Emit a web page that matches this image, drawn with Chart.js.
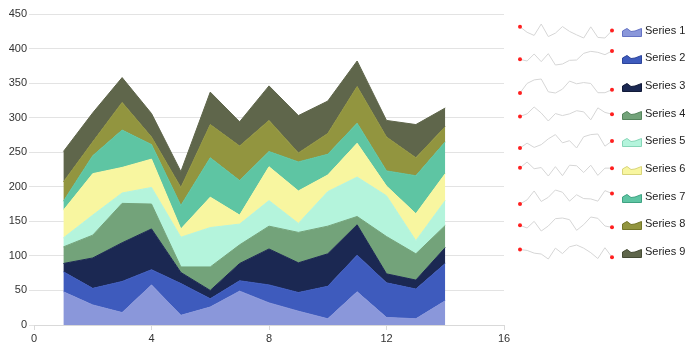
<!DOCTYPE html>
<html>
<head>
<meta charset="utf-8">
<script src="https://cdn.jsdelivr.net/npm/chart.js@4/dist/chart.umd.min.js"></script>
<style>
  html, body { margin: 0; padding: 0; background: #fff; }
  #wrap { position: relative; width: 692px; height: 351px; }
  #main { position: absolute; left: 0; top: 0; }
  .row { position: absolute; left: 516px; height: 22px; width: 176px; }
  .row canvas { position: absolute; left: 0; top: 0; }
  .row .lbl {
    position: absolute; left: 129px; top: 4px;
    font: 11px "Liberation Sans", Arial, sans-serif; color: #222; white-space: nowrap;
  }
</style>
</head>
<body>
<div id="wrap">
  <canvas id="main" width="692" height="351"></canvas>
  <div id="legend"></div>
</div>
<script>
const xValues = [1, 2, 3, 4, 5, 6, 7, 8, 9, 10, 11, 12, 13, 14];
const seriesNames = ['Series 1', 'Series 2', 'Series 3', 'Series 4', 'Series 5', 'Series 6', 'Series 7', 'Series 8', 'Series 9'];

const series1 = [48, 29, 18, 58, 14, 26, 49, 32, 20, 9, 48, 11, 9, 35];
const series2 = [29, 24, 45, 22, 46, 12, 15, 26, 27, 47, 53, 50, 43, 54];
const series3 = [12, 44, 56, 59, 16, 12, 25, 52, 43, 47, 44, 13, 13, 23];
const series4 = [24, 33, 57, 36, 8, 34, 27, 33, 44, 40, 12, 54, 38, 32];
const series5 = [13, 29, 15, 24, 43, 57, 30, 37, 13, 50, 57, 59, 19, 36];
const series6 = [40, 60, 37, 41, 12, 44, 13, 49, 47, 24, 49, 14, 39, 39];
const series7 = [13, 26, 54, 21, 34, 57, 50, 22, 42, 30, 29, 22, 55, 46];
const series8 = [28, 20, 40, 11, 26, 48, 50, 45, 13, 30, 53, 49, 26, 22];
const series9 = [44, 42, 36, 34, 23, 47, 35, 50, 54, 47, 37, 24, 48, 27];

const yTicks = { min: 0, max: 450, step: 50 };
const xTicks = { min: 0, max: 16, step: 4 };

const allSeries = [series1, series2, series3, series4, series5, series6, series7, series8, series9];
const fills = ['#8a97da', '#3e5bbd', '#1b2852', '#73a37a', '#b4f4dc', '#f8f6a0', '#5ec5a3', '#92953f', '#5f664b'];
const strokes = ['#6573c4', '#2c449a', '#111a38', '#55845c', '#86d6b8', '#d8d47a', '#3fa282', '#737628', '#454b34'];

Chart.defaults.font.family = '"Liberation Sans", Arial, sans-serif';

// stacked area chart
new Chart(document.getElementById('main'), {
  type: 'line',
  data: {
    datasets: allSeries.map((vals, i) => ({
      label: seriesNames[i],
      data: vals.map((v, j) => ({ x: xValues[j], y: v })),
      backgroundColor: fills[i],
      borderColor: fills[i],
      borderWidth: 1,
      pointRadius: 0,
      tension: 0,
      fill: i === 0 ? 'origin' : '-1',
    })),
  },
  options: {
    responsive: false,
    animation: false,
    devicePixelRatio: 1,
    layout: { padding: { top: 14, right: 188, left: 0, bottom: 0 } },
    plugins: { legend: { display: false }, tooltip: { enabled: false } },
    scales: {
      x: {
        type: 'linear',
        min: xTicks.min,
        max: xTicks.max,
        ticks: { stepSize: xTicks.step, color: '#333', font: { size: 11 }, padding: 2 },
        grid: { drawOnChartArea: false, drawTicks: true, tickLength: 5, color: '#d9d9d9' },
        border: { color: '#d9d9d9' },
        afterFit: (scale) => { scale.height = 26; },
      },
      y: {
        stacked: true,
        min: yTicks.min,
        max: yTicks.max,
        ticks: { stepSize: yTicks.step, color: '#333', font: { size: 11 }, padding: 2 },
        grid: { color: '#e3e3e3', tickLength: 5 },
        border: { display: false },
        afterFit: (scale) => { scale.width = 34; },
      },
    },
  },
});

// legend rows: sparkline + icon + label
const legend = document.getElementById('legend');
const rowTop = 19.5;
const rowGap = 27.7;

allSeries.forEach((vals, i) => {
  const row = document.createElement('div');
  row.className = 'row';
  row.style.top = (rowTop + i * rowGap) + 'px';

  const c = document.createElement('canvas');
  c.width = 100;
  c.height = 22;
  c.style.width = '100px';
  c.style.height = '22px';
  row.appendChild(c);

  const svg = `<svg width="20" height="10" style="left:106px;top:7px;position:absolute">
    <polygon points="0.5,9.5 0.5,4 5,1.5 9,4.5 13,4 19.5,1.5 19.5,9.5"
      fill="${fills[i]}" stroke="${strokes[i]}" stroke-width="1"/></svg>`;
  row.insertAdjacentHTML('beforeend', svg);

  const lbl = document.createElement('div');
  lbl.className = 'lbl';
  lbl.textContent = seriesNames[i];
  row.appendChild(lbl);
  legend.appendChild(row);

  const last = vals.length - 1;
  new Chart(c, {
    type: 'line',
    data: {
      labels: xValues,
      datasets: [{
        data: vals,
        borderColor: '#d6d6d6',
        borderWidth: 1,
        tension: 0,
        clip: false,
        pointRadius: (ctx) => (ctx.dataIndex === 0 || ctx.dataIndex === last ? 2 : 0),
        pointBackgroundColor: '#ff1f1f',
        pointBorderWidth: 0,
      }],
    },
    options: {
      responsive: false,
      maintainAspectRatio: false,
      animation: false,
      devicePixelRatio: 1,
      layout: { padding: 3 },
      plugins: { legend: { display: false }, tooltip: { enabled: false } },
      scales: {
        x: { display: false },
        y: { display: false, min: Math.min(...vals), max: Math.max(...vals) },
      },
    },
  });
});
</script>
</body>
</html>
